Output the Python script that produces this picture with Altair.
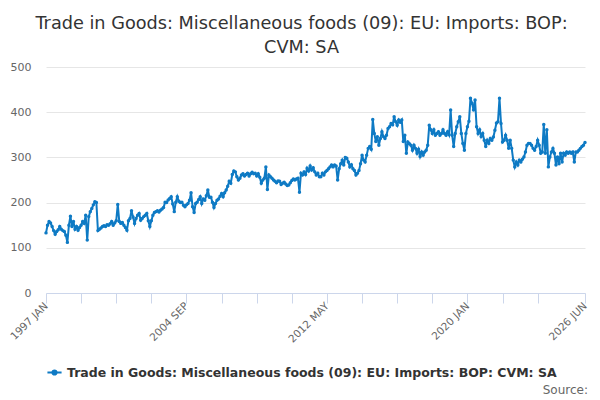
import altair as alt
import pandas as pd

series_name = "Trade in Goods: Miscellaneous foods (09): EU: Imports: BOP: CVM: SA"
title_lines = ["Trade in Goods: Miscellaneous foods (09): EU: Imports: BOP:", "CVM: SA"]
month_names = ["JAN", "FEB", "MAR", "APR", "MAY", "JUN",
               "JUL", "AUG", "SEP", "OCT", "NOV", "DEC"]
first_year = 1997

# monthly values (£m, CVM), 1997 JAN .. 2026 JUN
vals_1997_2001 = [
    133, 150, 158, 155, 147, 138, 130, 136, 140, 147, 141, 138,
    136, 128, 112, 150, 170, 147, 158, 141, 147, 139, 145, 150,
    158, 154, 172, 117, 169, 180, 187, 195, 202, 200, 138, 141,
    144, 147, 149, 147, 151, 150, 153, 158, 150, 155, 160, 196,
    158, 154, 156, 150, 145, 139, 160, 165, 182, 168, 154, 165,
]
vals_2002_2006 = [
    172, 176, 161, 165, 169, 172, 176, 160, 147, 160, 172, 178,
    180, 182, 179, 183, 186, 189, 201, 200, 206, 209, 213, 197,
    180, 201, 213, 203, 200, 201, 194, 191, 195, 198, 205, 222,
    191, 178, 198, 201, 207, 213, 198, 208, 205, 215, 228, 212,
    212, 201, 189, 198, 205, 208, 214, 220, 213, 222, 228, 236,
]
vals_2007_2011 = [
    247, 243, 262, 270, 268, 257, 250, 254, 261, 264, 259, 262,
    265, 259, 264, 267, 264, 265, 259, 264, 256, 243, 250, 254,
    279, 229, 261, 257, 254, 250, 247, 244, 248, 247, 240, 243,
    245, 241, 238, 239, 244, 249, 252, 250, 252, 254, 223, 265,
    261, 268, 262, 276, 270, 281, 272, 277, 268, 261, 265, 257,
]
vals_2012_2016 = [
    257, 265, 261, 268, 271, 275, 279, 283, 279, 283, 281, 250,
    275, 286, 294, 283, 300, 298, 290, 279, 284, 275, 271, 261,
    265, 271, 286, 305, 294, 290, 305, 320, 324, 318, 384, 353,
    335, 346, 327, 342, 357, 346, 342, 349, 364, 368, 375, 372,
    390, 379, 371, 383, 378, 383, 335, 349, 309, 334, 330, 327,
]
vals_2017_2021 = [
    316, 327, 320, 309, 318, 302, 312, 305, 312, 316, 327, 371,
    361, 353, 361, 349, 353, 357, 349, 353, 361, 353, 349, 357,
    350, 405, 349, 324, 353, 368, 379, 390, 353, 331, 316, 353,
    368, 380, 431, 420, 405, 427, 368, 353, 361, 346, 353, 338,
    324, 338, 331, 342, 338, 345, 360, 376, 379, 431, 375, 334,
]
vals_2022_2026 = [
    338, 349, 338, 320, 338, 320, 294, 279, 290, 283, 294, 290,
    296, 301, 312, 327, 331, 331, 327, 320, 316, 324, 338, 327,
    309, 312, 373, 309, 361, 279, 301, 312, 320, 309, 283, 301,
    286, 309, 290, 309, 305, 312, 309, 312, 309, 312, 290, 312,
    312, 316, 320, 324, 327, 333,
]

values = (vals_1997_2001 + vals_2002_2006 + vals_2007_2011
          + vals_2012_2016 + vals_2017_2021 + vals_2022_2026)

tick_idx = [0, 23, 46, 69, 92, 115, 138, 161, 184, 207, 230, 253, 276, 299, 322, 353]
label_idx = [0, 92, 184, 276, 353]

blue = "#0e7ac4"
font = "DejaVu Sans"


def month_label(i):
  return f"{first_year + i // 12} {month_names[i % 12]}"


df = pd.DataFrame({
    "idx": range(len(values)),
    "value": values,
    "month": [month_label(i) for i in range(len(values))],
    "series": series_name,
})

label_expr = "".join(f"datum.value == {i} ? '{month_label(i)}' : " for i in label_idx) + "''"

x = alt.X("idx:Q", title=None,
          scale=alt.Scale(domain=[0, len(values) - 1], nice=False, zero=False),
          axis=alt.Axis(values=tick_idx, labelExpr=label_expr, grid=False,
                        domainColor="#ccd6eb", tickColor="#ccd6eb", tickSize=10,
                        labelAngle=-45, labelAlign="right", labelBaseline="middle",
                        labelFont=font, labelFontSize=10.5, labelColor="#666666",
                        labelPadding=1, labelOverlap=False))
y = alt.Y("value:Q", title=None,
          scale=alt.Scale(domain=[0, 500], nice=False),
          axis=alt.Axis(values=[0, 100, 200, 300, 400, 500], domain=False, ticks=False,
                        gridColor="#e6e6e6", labelFont=font, labelFontSize=11,
                        labelColor="#666666", labelPadding=15))
color = alt.Color("series:N", title=None,
                  scale=alt.Scale(domain=[series_name], range=[blue]),
                  legend=alt.Legend(orient="none", legendX=0, legendY=297,
                                    symbolType="M-1,0L1,0M-0.3,0A0.3,0.3 0 1 1 0.3,0A0.3,0.3 0 1 1 -0.3,0",
                                    symbolSize=200, symbolStrokeWidth=2,
                                    symbolStrokeColor=blue, symbolFillColor=blue,
                                    labelFont=font, labelFontSize=12.5, labelFontWeight="bold",
                                    labelColor="#333333", labelLimit=600))

base = alt.Chart(df).encode(x=x, y=y, color=color)
line = base.mark_line(strokeWidth=2)
dots = base.mark_point(filled=True, size=12, opacity=1)

source = alt.Chart(pd.DataFrame({"text": ["Source:"]})).mark_text(
    align="right", baseline="middle", font=font, fontSize=12, color="#666666"
).encode(x=alt.value(542), y=alt.value(323), text="text:N")

chart = (alt.layer(line, dots, source)
         .properties(width=539, height=226, padding={"left": 38, "top": 59, "right": 7, "bottom": 105},
                     autosize=alt.AutoSizeParams(type="none"),
                     title=alt.TitleParams(title_lines, font=font, fontSize=17.7, fontWeight="normal",
                                           color="#333333", anchor="middle", dx=-14, lineHeight=24))
         .configure_view(stroke=None))

chart.save("out.html", embed_options={"renderer": "svg", "actions": False})
